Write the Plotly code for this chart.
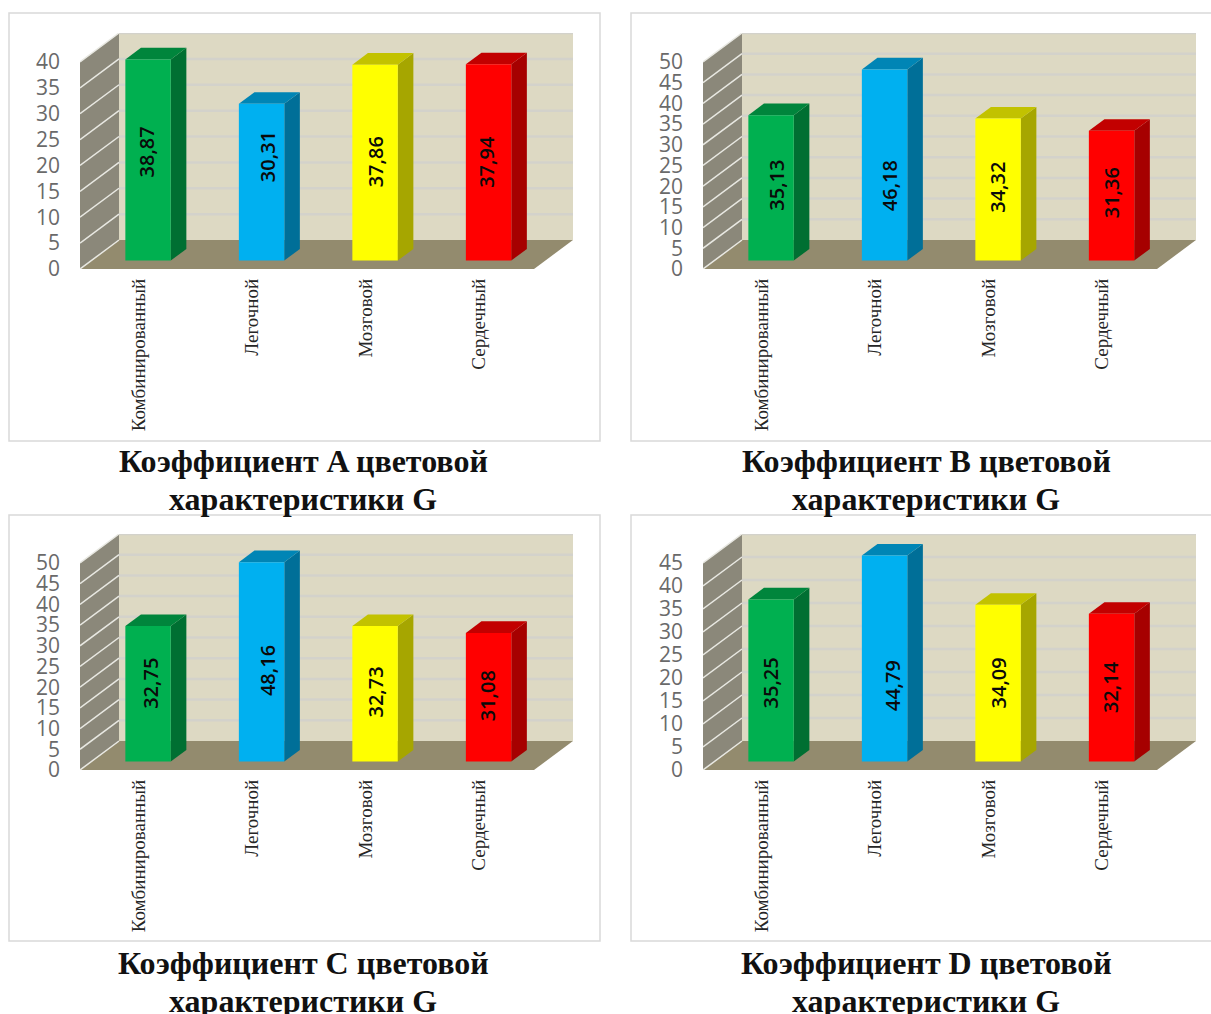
import plotly.graph_objects as go

# Categories and measured coefficients
categories = ["Комбинированный", "Легочной", "Мозговой", "Сердечный"]
values_a = [38.87, 30.31, 37.86, 37.94]
values_b = [35.13, 46.18, 34.32, 31.36]
values_c = [32.75, 48.16, 32.73, 31.08]
values_d = [35.25, 44.79, 34.09, 32.14]
axis_max_a = 40
axis_max_b = 50
axis_max_c = 50
axis_max_d = 45
tick_step = 5
title_first_lines = [
    "Коэффициент A цветовой",
    "Коэффициент B цветовой",
    "Коэффициент C цветовой",
    "Коэффициент D цветовой",
]
title_second_line = "характеристики G"

# Height of each in-bar label above the bar base, in axis units
label_height_a = [20.9, 20.1, 19.0, 19.0]
label_height_b = [18.1, 18.1, 17.6, 16.4]
label_height_c = [18.8, 22.0, 16.7, 15.9]
label_height_d = [17.0, 16.5, 17.0, 16.1]

# Sideways nudge of each in-bar label off the bar centre, in pixels
label_nudge_a = [-2, 6, 0, -2]
label_nudge_b = [6, 5, 0, 0]
label_nudge_c = [3, 6, 0, -1]
label_nudge_d = [-1, 8, 0, -1]

W, H = 1211, 1014

FACE = ["#00B050", "#00B0F0", "#FFFF00", "#FF0000"]
TOP = ["#00853C", "#0085B5", "#C2C200", "#C20000"]
SIDE = ["#006F32", "#006F98", "#A6A600", "#A60000"]

WALL_BACK = "#DDD9C3"
WALL_SIDE = "#8B887A"
FLOOR = "#938B6E"
GRID_BACK = "#D3D2CB"
GRID_SIDE = "#E8E8E2"
FRAME = "#D9D9D9"

# Oblique projection: pixel extents of the plot box in each panel
BOX_W = 493
BOX_H = 236
FRONT_H = 207
DEPTH_PX_X = 39
DEPTH_PX_Y = 29
CAT_COUNT = len(categories)
DX = DEPTH_PX_X / ((BOX_W - DEPTH_PX_X) / CAT_COUNT)
BAR_HALF = 0.2
D0, D1 = 0.29, 0.69

panels = [
    dict(vals=values_a, top=axis_max_a, lab=label_height_a, nudge=label_nudge_a, left=80, box_top=33, frame=(9, 13, 600, 441), title_y=461),
    dict(vals=values_b, top=axis_max_b, lab=label_height_b, nudge=label_nudge_b, left=703, box_top=33, frame=(631, 13, 1230, 441), title_y=461),
    dict(vals=values_c, top=axis_max_c, lab=label_height_c, nudge=label_nudge_c, left=80, box_top=534, frame=(9, 515, 600, 941), title_y=963),
    dict(vals=values_d, top=axis_max_d, lab=label_height_d, nudge=label_nudge_d, left=703, box_top=534, frame=(631, 515, 1230, 941), title_y=963),
]

fig = go.Figure()
layout = dict(
    width=W, height=H, margin=dict(l=0, r=0, t=0, b=0, autoexpand=False), showlegend=False,
    paper_bgcolor="white", plot_bgcolor="rgba(0,0,0,0)",
    shapes=[], annotations=[],
)


def polygon(xs, ys, color, ax):
    fig.add_trace(go.Scatter(
        x=xs, y=ys, mode="lines", fill="toself", fillcolor=color,
        line=dict(width=0, color=color), hoverinfo="skip",
        xaxis=ax[0], yaxis=ax[1],
    ))


for n, p in enumerate(panels, start=1):
    suffix = "" if n == 1 else str(n)
    ax = ("x" + suffix, "y" + suffix)
    ymax = p["top"]
    dy = ymax * DEPTH_PX_Y / FRONT_H
    xmax = CAT_COUNT + DX

    # Background frame of the panel
    x0, y0, x1, y1 = p["frame"]
    layout["shapes"].append(dict(
        type="rect", xref="paper", yref="paper", layer="below",
        x0=x0 / W, x1=x1 / W, y0=1 - y1 / H, y1=1 - y0 / H,
        line=dict(color=FRAME, width=1.5), fillcolor="white",
    ))

    # Walls and floor
    polygon([DX, xmax, xmax, DX], [dy, dy, ymax + dy, ymax + dy], WALL_BACK, ax)
    polygon([0, DX, DX, 0], [0, dy, ymax + dy, ymax], WALL_SIDE, ax)
    polygon([0, CAT_COUNT, xmax, DX], [0, 0, dy, dy], FLOOR, ax)

    # Gridlines run along the side wall and across the back wall
    ticks = list(range(0, ymax + 1, tick_step))
    for t in ticks:
        fig.add_trace(go.Scatter(
            x=[0, DX], y=[t, t + dy], mode="lines", hoverinfo="skip",
            line=dict(color=GRID_SIDE, width=1.5), xaxis=ax[0], yaxis=ax[1],
        ))
        if t > 0:
            fig.add_trace(go.Scatter(
                x=[DX, xmax], y=[t + dy, t + dy], mode="lines", hoverinfo="skip",
                line=dict(color=GRID_BACK, width=2.5), xaxis=ax[0], yaxis=ax[1],
            ))

    # Bars as extruded boxes
    for i, v in enumerate(p["vals"]):
        xl = i + 0.5 - BAR_HALF + D0 * DX
        xr = i + 0.5 + BAR_HALF + D0 * DX
        base = D0 * dy
        ox = (D1 - D0) * DX
        oy = (D1 - D0) * dy
        polygon([xr, xr + ox, xr + ox, xr], [base, base + oy, base + v + oy, base + v], SIDE[i], ax)
        polygon([xl, xr, xr + ox, xl + ox], [base + v, base + v, base + v + oy, base + v + oy], TOP[i], ax)
        polygon([xl, xr, xr, xl], [base, base, base + v, base + v], FACE[i], ax)
        layout["annotations"].append(dict(
            x=(xl + xr) / 2, y=base + p["lab"][i], xref=ax[0], yref=ax[1],
            xshift=p["nudge"][i],
            text=f"{v:.2f}".replace(".", ","), textangle=-90, showarrow=False,
            font=dict(family="Open Sans", size=20, color="#0A0A0A", weight=600),
        ))

    left = p["left"]
    bt = p["box_top"]
    layout["xaxis" + suffix] = dict(
        domain=[left / W, (left + BOX_W) / W], range=[0, xmax], anchor=ax[1],
        tickmode="array", tickvals=[i + 0.5 for i in range(CAT_COUNT)], ticktext=categories,
        tickangle=-90, ticks="", showgrid=False, zeroline=False, showline=False,
        tickfont=dict(family="Liberation Serif", size=19, color="#262626"),
        ticklabelstandoff=5, ticklabelshift=2,
    )
    layout["yaxis" + suffix] = dict(
        domain=[1 - (bt + BOX_H) / H, 1 - bt / H], range=[0, ymax + dy], anchor=ax[0],
        tickmode="array", tickvals=ticks, ticktext=[str(t) for t in ticks],
        ticks="", showgrid=False, zeroline=False, showline=False,
        tickfont=dict(family="Open Sans", size=21, color="#6A6A6A"),
        ticklabelstandoff=19,
    )

    # Caption lines under the panel, placed on a page-sized overlay axis
    for line, offset in ((title_first_lines[n - 1], 0), (title_second_line, 38)):
        layout["annotations"].append(dict(
            x=left + 223, y=p["title_y"] + offset, xref="x5", yref="y5",
            text="<b>" + line + "</b>", showarrow=False,
            xanchor="center", yanchor="middle", align="center",
            font=dict(family="Liberation Serif", size=32, color="#111111"),
        ))

fig.add_trace(go.Scatter(x=[None], y=[None], xaxis="x5", yaxis="y5", hoverinfo="skip"))
layout["xaxis5"] = dict(domain=[0, 1], range=[0, W], anchor="y5", visible=False)
layout["yaxis5"] = dict(domain=[0, 1], range=[H, 0], anchor="x5", visible=False)

fig.update_layout(**layout)
fig.write_html("out.html")
